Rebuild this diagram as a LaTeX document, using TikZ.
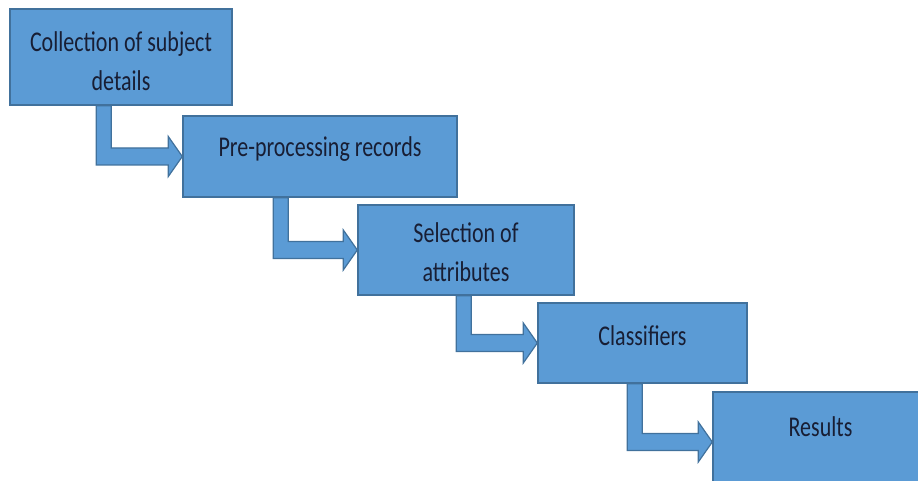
\documentclass[tikz,border=0pt]{standalone}
\usepackage{fontspec}
\setmainfont{Carlito}
\usepackage{graphicx}
\usepackage{tikz}
\usetikzlibrary{calc}
\definecolor{boxfill}{RGB}{91,155,213}
\definecolor{boxline}{RGB}{65,113,156}
\definecolor{boxtext}{RGB}{24,30,52}
\tikzset{>=latex}
\tikzset{stagebox/.style = {draw = boxline, fill = boxfill, line width = 1.4pt, text = boxtext, text height = 20pt, font = \fontsize{22}{29.6}\selectfont}}
\tikzset{bentarrow/.style = {draw = boxline, fill = boxfill, line width = 1.2pt, line join = miter}}
% text of a box, a bit taller than wide
\newcommand{\tallstack}[1]{\scalebox{1}[1.3]{\begin{tabular}[t]{@{}c@{}}#1\end{tabular}}}
% #1 from node, #2 to node, #3 shaft offset from left side of #1
\newcommand{\bentarrow}[3]{
\path[bentarrow] let \p1 = (#1.south west), \p2 = (#2.west) in
 (\x1+#3pt, \y1) -- (\x1+#3pt, \y2-8.5pt) -- (\x2-14pt, \y2-8.5pt) -- (\x2-14pt, \y2-20pt)
 -- (\x2, \y2) -- (\x2-14pt, \y2+20pt) -- (\x2-14pt, \y2+8.5pt) -- (\x1+#3pt+15pt, \y2+8.5pt)
 -- (\x1+#3pt+15pt, \y1) -- cycle;
}
\begin{document}
\begin{tikzpicture}[x = 1pt, y = -1pt]
\clip (0,0) rectangle (918,481);
\node[stagebox, minimum width = 222pt, minimum height = 96pt, text depth = 30pt] (collect) at (121, 57) {\tallstack{Collection of subject\\details}};
\node[stagebox, minimum width = 274pt, minimum height = 81pt, text depth = 19pt] (preproc) at (320, 156.5) {\tallstack{Pre-processing records}};
\node[stagebox, minimum width = 216pt, minimum height = 90pt, text depth = 34pt] (select) at (466, 250) {\tallstack{Selection of\\attributes}};
\node[stagebox, minimum width = 209pt, minimum height = 80pt, text depth = 16pt] (classif) at (642.5, 343) {\tallstack{Classifiers}};
\node[stagebox, minimum width = 215pt, minimum height = 100pt, text depth = 30.6pt] (results) at (820.5, 442) {\tallstack{Results}};
\bentarrow{collect}{preproc}{87}
\bentarrow{preproc}{select}{91}
\bentarrow{select}{classif}{99}
\bentarrow{classif}{results}{90}
\end{tikzpicture}
\end{document}
